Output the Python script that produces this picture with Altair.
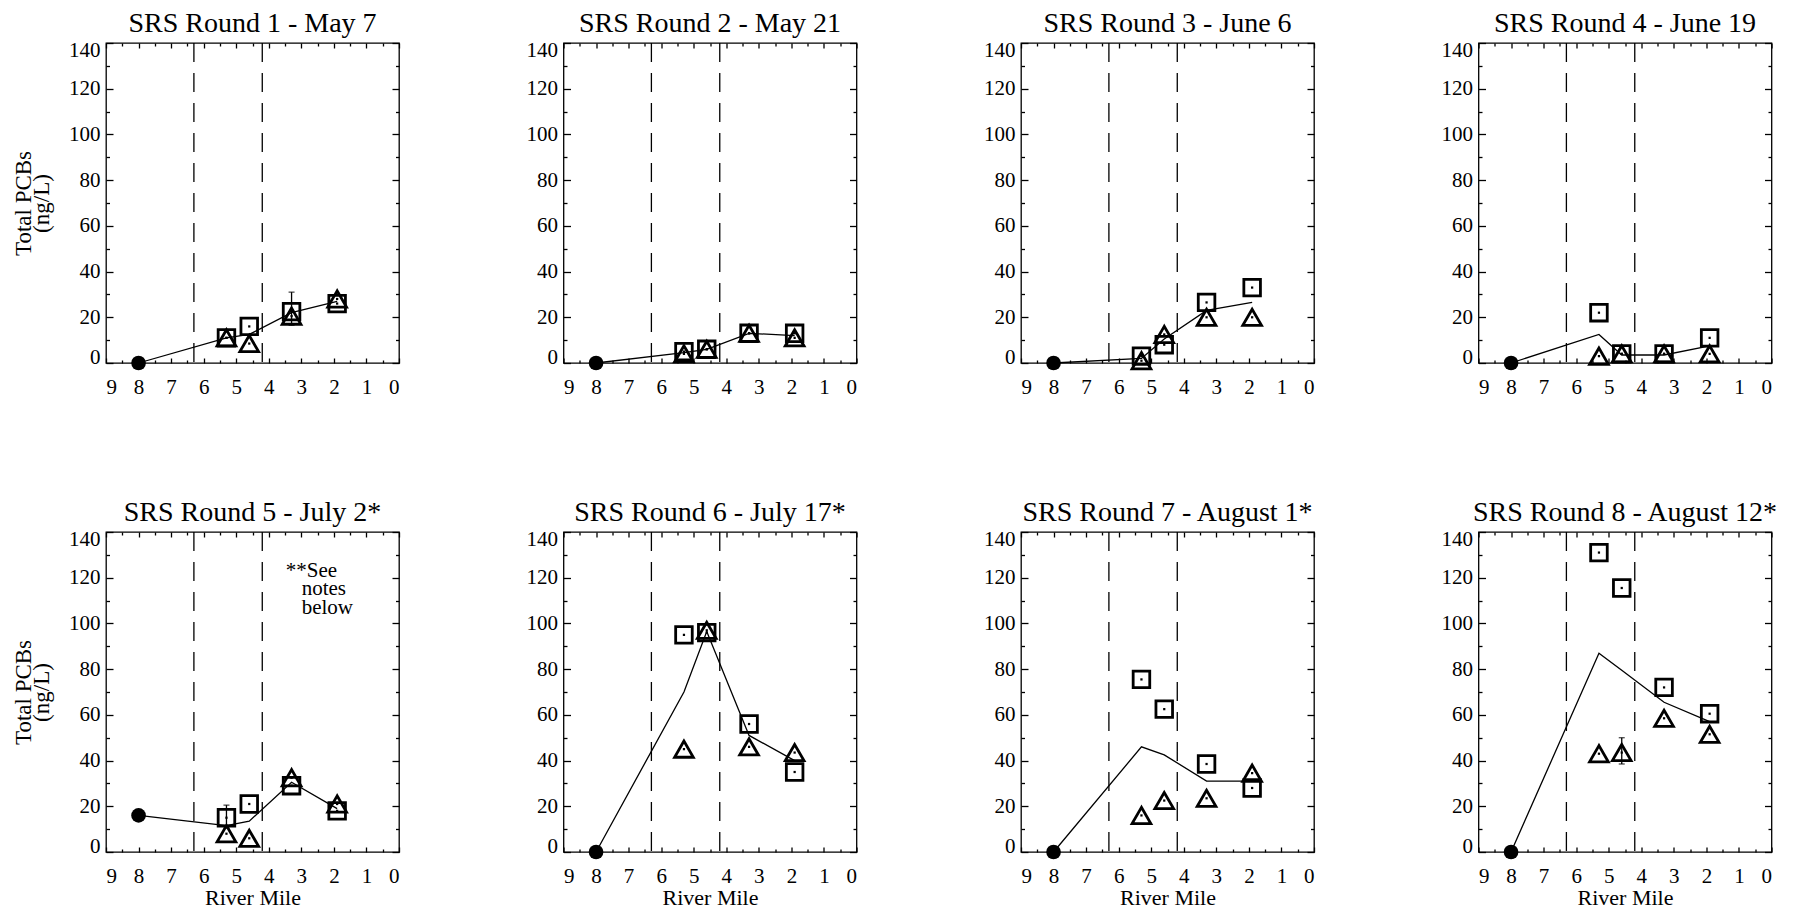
import altair as alt
import pandas as pd

FONT = "Liberation Serif"

# ---- data -----------------------------------------------------------------
panel_titles = [
    "SRS Round 1 - May 7",
    "SRS Round 2 - May 21",
    "SRS Round 3 - June 6",
    "SRS Round 4 - June 19",
    "SRS Round 5 - July 2*",
    "SRS Round 6 - July 17*",
    "SRS Round 7 - August 1*",
    "SRS Round 8 - August 12*",
]

# sampling stations (river mile)
upstream_mile = 8.0
station_miles = [5.3, 4.6, 3.3, 1.9]

# upstream background station (filled circle)
upstream_vals = [0, 0, 0, 0, 16, 0, 0, 0]

# open squares
square_vals = [
    [11, 16, 22.5, 26],
    [5, 6, 13, 13],
    [3, 8, 26.5, 33],
    [22, 4, 4, 11],
    [15, 21, 29, 18],
    [95, 96, 56, 35],
    [75.5, 62.5, 38.5, 28],
    [131, 115.5, 72, 60.5],
]

# open triangles
triangle_vals = [
    [11, 8.5, 20.5, 28],
    [4, 6, 13, 11],
    [1, 12.5, 20, 20],
    [3, 4, 4, 4],
    [8, 6, 32.5, 21],
    [45, 97, 46, 43.5],
    [16, 22.5, 23.5, 34.5],
    [43, 43.5, 58.5, 51.5],
]

# solid line: upstream value followed by the station values
line_vals = [
    [0, 11, 12.5, 22, 27],
    [0, 4.5, 6, 13, 12],
    [0, 2, 10.5, 23, 26.5],
    [0, 12.5, 3.5, 3.5, 7.5],
    [16, 11.5, 13.5, 30.5, 19],
    [0, 70, 96.5, 51, 40],
    [0, 46, 42.5, 31, 31],
    [0, 87, 79.5, 65.5, 57],
]

# error bars (panel number, river mile, low, high)
err_panel = [1, 5, 8]
err_mile = [3.3, 5.3, 4.6]
err_lo = [16.5, 10.5, 38.5]
err_hi = [31.0, 20.5, 50.0]

# reach boundaries (dashed)
dash_miles = [6.3, 4.2]

# axis ticks
x_major = list(range(0, 10))
x_minor = [0.5, 1.5, 2.5, 3.5, 4.5, 5.5, 6.5, 7.5, 8.5]
y_major = [0, 20, 40, 60, 80, 100, 120, 140]
y_minor = [10, 30, 50, 70, 90, 110, 130]

note_lines = ["**See", "notes", "below"]

# ---- styling ----------------------------------------------------------------
X_SCALE = alt.Scale(domain=[0, 9], reverse=True, nice=False, zero=False)
Y_SCALE = alt.Scale(domain=[0, 140], nice=False, zero=False)
LW = 1.3
PW, PH = 293, 320

AX = dict(domain=False, grid=False, tickColor="black", tickWidth=LW,
          labelFont=FONT, labelColor="black", titleFont=FONT,
          titleColor="black", titleFontWeight="normal", minExtent=0)


def x_enc(axis=None):
    return alt.X("mile:Q", scale=X_SCALE, axis=axis, title=None)


def y_enc(field="val", axis=None):
    return alt.Y(f"{field}:Q", scale=Y_SCALE, axis=axis, title=None)


def make_panel(i):
    row, col = divmod(i, 4)
    stations = pd.DataFrame({"mile": station_miles,
                             "sq": square_vals[i],
                             "tri": triangle_vals[i]})
    up = pd.DataFrame({"mile": [upstream_mile], "val": [upstream_vals[i]],
                       "title": [panel_titles[i]]})
    line_df = pd.DataFrame({"mile": [upstream_mile] + station_miles,
                            "val": line_vals[i]})
    dash_df = pd.DataFrame({"mile": dash_miles})
    err_df = pd.DataFrame({"panel": err_panel, "mile": err_mile,
                           "lo": err_lo, "hi": err_hi})
    err_df = err_df[err_df["panel"] == i + 1]

    # axes: major/minor ticks drawn inward on all four sides
    x_bot = alt.Axis(orient="bottom", values=x_major, tickSize=5, offset=-5,
                     labelPadding=13, labelFontSize=21, format="d",
                     title="River Mile" if row == 1 else None,
                     titleFontSize=22, titlePadding=1, **AX)
    y_left = alt.Axis(orient="left", values=y_major, tickSize=7, offset=-7,
                      labelPadding=6, labelFontSize=21, format="d",
                      labelFlush=True, labelFlushOffset=4,
                      title=["Total PCBs", "(ng/L)"] if col == 0 else None,
                      titleFontSize=23, titleLineHeight=18, titlePadding=15,
                      **AX)
    x_top = alt.Axis(orient="top", values=x_major, tickSize=5, offset=-5,
                     labels=False, title=None, **AX)
    y_right = alt.Axis(orient="right", values=y_major, tickSize=7, offset=-7,
                       labels=False, title=None, **AX)
    x_bot_m = alt.Axis(orient="bottom", values=x_minor, tickSize=3, offset=-3,
                       labels=False, title=None, **AX)
    y_left_m = alt.Axis(orient="left", values=y_minor, tickSize=3.5,
                        offset=-3.5, labels=False, title=None, **AX)
    x_top_m = alt.Axis(orient="top", values=x_minor, tickSize=3, offset=-3,
                       labels=False, title=None, **AX)
    y_right_m = alt.Axis(orient="right", values=y_minor, tickSize=3.5,
                         offset=-3.5, labels=False, title=None, **AX)

    base_up = alt.Chart(up)
    axes = [
        base_up.mark_point(opacity=0).encode(x=x_enc(x_bot), y=y_enc(axis=y_left)),
        base_up.mark_point(opacity=0).encode(x=x_enc(x_top), y=y_enc(axis=y_right)),
        base_up.mark_point(opacity=0).encode(x=x_enc(x_bot_m), y=y_enc(axis=y_left_m)),
        base_up.mark_point(opacity=0).encode(x=x_enc(x_top_m), y=y_enc(axis=y_right_m)),
    ]

    # panel heading, centred above the plot frame
    heading = base_up.mark_text(
        font=FONT, fontSize=28, color="black", align="center",
        baseline="alphabetic"
    ).encode(x=alt.value(PW / 2), y=alt.value(-11), text="title:N")

    dashed = alt.Chart(dash_df).mark_rule(
        color="black", strokeWidth=LW, strokeDash=[19, 11]
    ).encode(x=x_enc())

    line = alt.Chart(line_df).mark_line(color="black", strokeWidth=LW).encode(
        x=x_enc(), y=y_enc())

    circle = base_up.mark_point(shape="circle", filled=True, size=215,
                                color="black", opacity=1).encode(
        x=x_enc(), y=y_enc())

    st = alt.Chart(stations)
    squares = st.mark_point(shape="square", filled=False, size=275,
                            color="black", strokeWidth=2.8, opacity=1).encode(
        x=x_enc(), y=y_enc("sq"))
    triangles = st.mark_point(shape="triangle-up", filled=False, size=350,
                              color="black", strokeWidth=2.8, opacity=1).encode(
        x=x_enc(), y=y_enc("tri"))
    sq_dots = st.mark_point(shape="square", filled=True, size=5,
                            color="black", opacity=1).encode(
        x=x_enc(), y=y_enc("sq"))
    tri_dots = st.mark_point(shape="square", filled=True, size=5,
                             color="black", opacity=1).encode(
        x=x_enc(), y=y_enc("tri"))

    layers = axes + [heading, dashed, line, squares, triangles, sq_dots,
                     tri_dots, circle]

    if len(err_df):
        eb = alt.Chart(err_df)
        layers.append(eb.mark_rule(color="black", strokeWidth=LW).encode(
            x=x_enc(), y=y_enc("lo"), y2="hi:Q"))
        layers.append(eb.mark_tick(orient="horizontal", size=6, thickness=LW,
                                   color="black").encode(
            x=x_enc(), y=y_enc("lo")))
        layers.append(eb.mark_tick(orient="horizontal", size=6, thickness=LW,
                                   color="black").encode(
            x=x_enc(), y=y_enc("hi")))

    if i == 4:
        note_df = pd.DataFrame({"text": note_lines,
                                "mile": [3.48, 2.99, 2.99],
                                "val": [122.9, 114.9, 106.8]})
        layers.append(alt.Chart(note_df).mark_text(
            align="left", baseline="middle", font=FONT, fontSize=21,
            color="black").encode(x=x_enc(), y=y_enc(), text="text:N"))

    return alt.layer(*layers).resolve_axis(
        x="independent", y="independent"
    ).properties(width=PW, height=PH)


panels = [make_panel(i) for i in range(8)]
row1 = alt.hconcat(*panels[:4], spacing=123.5)
row2 = alt.hconcat(*panels[4:], spacing=123.5)

chart = alt.vconcat(row1, row2, spacing=100).properties(
    padding={"left": 11, "top": 9, "right": 0, "bottom": 0},
    background="white",
).configure_view(stroke="black", strokeWidth=LW)

chart.save("out.html", embed_options={"renderer": "svg", "actions": False})
